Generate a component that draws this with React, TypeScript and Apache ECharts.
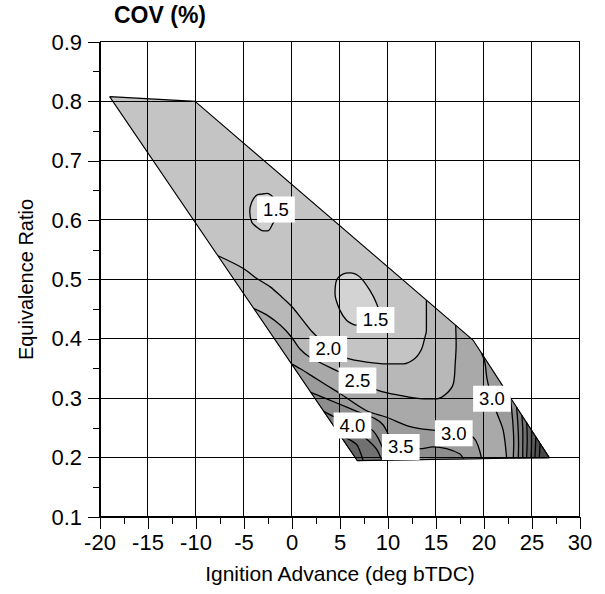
import React, { useEffect, useRef } from "react";
import * as echarts from "echarts";

const FONT = "Liberation Sans, Arial, Helvetica, sans-serif";

// Axis ranges / ticks
const X_MIN = -20, X_MAX = 30, X_STEP = 5;
const Y_MIN = 0.1, Y_MAX = 0.9, Y_STEP = 0.1;
const xTicks = [-20, -15, -10, -5, 0, 5, 10, 15, 20, 25, 30];
const yTicks = [0.1, 0.2, 0.3, 0.4, 0.5, 0.6, 0.7, 0.8, 0.9];

// Outline of the measured region (x: ignition advance, y: equivalence ratio)
const boundary: [number, number][] = [
  [-19.0, 0.808], [-10.1, 0.8], [18.85, 0.398], [26.8, 0.2], [6.8, 0.195],
];
const C: [number, number] = boundary[2];
const D: [number, number] = boundary[3];
const E: [number, number] = boundary[4];

// Contour lines
const c15a: [number, number][] = [
  [-3.1, 0.644], [-3.7, 0.642], [-4.2, 0.63], [-4.4, 0.615], [-4.2, 0.597], [-3.65, 0.588],
  [-3.0, 0.582], [-2.5, 0.582], [-2.0, 0.594], [-1.5, 0.61], [-1.8, 0.635], [-2.6, 0.645], [-3.1, 0.644],
];
const c15b: [number, number][] = [
  [6.56, 0.423], [5.7, 0.431], [5.0, 0.448], [4.48, 0.476], [4.65, 0.499], [5.3, 0.509],
  [6.04, 0.511], [7.08, 0.504], [8.1, 0.482], [8.82, 0.459], [9.1, 0.44], [8.2, 0.425], [6.56, 0.423],
];
const c20: [number, number][] = [
  [-7.7, 0.54], [-5.1, 0.519], [-3.7, 0.502], [-2.3, 0.488], [-1.1, 0.471], [0.0, 0.454],
  [1.0, 0.434], [2.1, 0.412], [3.0, 0.398], [4.5, 0.378], [5.76, 0.367], [7.78, 0.361],
  [9.86, 0.358], [11.6, 0.358], [12.8, 0.367], [13.5, 0.383], [13.85, 0.403], [14.0, 0.414], [14.0, 0.465],
];
const c25: [number, number][] = [
  [-3.95, 0.451], [-2.6, 0.44], [-1.2, 0.423], [-0.1, 0.404], [0.83, 0.383], [1.87, 0.369],
  [4.83, 0.345], [6.8, 0.33], [9.03, 0.313], [11.2, 0.305], [13.68, 0.299], [15.07, 0.299],
  [16.1, 0.308], [16.8, 0.324], [17.0, 0.358], [17.1, 0.392], [17.05, 0.423],
];
const c30L: [number, number][] = [
  [-0.05, 0.358], [0.83, 0.35], [2.22, 0.336], [3.6, 0.322], [5.0, 0.308], [7.78, 0.279],
  [9.86, 0.268], [11.95, 0.254], [13.3, 0.249], [14.9, 0.246], [16.85, 0.241], [18.9, 0.234], [19.76, 0.198],
];
const c30R: [number, number][] = [
  [19.75, 0.376], [20.1, 0.36], [20.3, 0.334], [20.8, 0.3], [21.3, 0.277], [22.0, 0.246], [22.36, 0.199],
];
const c35L: [number, number][] = [
  [1.95, 0.31], [4.66, 0.292], [6.75, 0.278], [8.6, 0.266], [9.5, 0.255], [10.2, 0.235],
  [11.33, 0.218], [13.33, 0.215], [14.7, 0.218], [16.1, 0.215], [17.5, 0.206], [17.85, 0.198],
];
const c40L: [number, number][] = [
  [3.3, 0.278], [4.5, 0.268], [6.3, 0.255], [8.3, 0.247], [9.0, 0.232], [9.7, 0.208], [10.5, 0.196],
];
const c45L: [number, number][] = [
  [4.5, 0.25], [6.0, 0.248], [6.74, 0.244], [8.0, 0.228], [8.82, 0.214], [9.35, 0.196],
];
const c50L: [number, number][] = [
  [5.0, 0.238], [5.8, 0.232], [6.74, 0.222], [7.1, 0.21], [7.4, 0.196],
];
const c35R: [number, number][] = [[22.75, 0.301], [23.0, 0.26], [23.1, 0.225], [23.05, 0.199]];
const c40R: [number, number][] = [[23.4, 0.285], [23.55, 0.25], [23.6, 0.222], [23.57, 0.199]];
const c45R: [number, number][] = [[23.95, 0.271], [24.05, 0.24], [24.03, 0.2]];
const c50R: [number, number][] = [[24.45, 0.259], [24.5, 0.23], [24.44, 0.2]];
const c55R: [number, number][] = [[24.95, 0.246], [24.95, 0.222], [24.9, 0.2]];
const c60R: [number, number][] = [[25.4, 0.235], [25.35, 0.215], [25.3, 0.2]];
const c65R: [number, number][] = [[25.85, 0.224], [25.8, 0.21], [25.76, 0.2]];

// Contour labels
const labelText = ["1.5", "1.5", "2.0", "2.5", "4.0", "3.5", "3.0", "3.0"];
const labelPos: [number, number][] = [
  [-1.67, 0.618], [8.7, 0.432], [3.78, 0.383], [6.82, 0.33],
  [6.3, 0.254], [11.33, 0.218], [16.85, 0.241], [20.83, 0.299],
];

// Filled bands, drawn in order (higher levels on top)
const regions: { pts: [number, number][]; fill: string }[] = [
  { pts: boundary, fill: "#c4c4c4" },
  { pts: c15a, fill: "#cfcfcf" },
  { pts: c15b, fill: "#d3d3d3" },
  { pts: [...c20, C, D, E], fill: "#b8b8b8" },
  { pts: [...c25, C, D, E], fill: "#a9a9a9" },
  { pts: [...c30L, E], fill: "#9b9b9b" },
  { pts: [...c30R, D], fill: "#9b9b9b" },
  { pts: [...c35L, E], fill: "#8d8d8d" },
  { pts: [...c35R, D], fill: "#8d8d8d" },
  { pts: [...c40L, E], fill: "#7f7f7f" },
  { pts: [...c40R, D], fill: "#7f7f7f" },
  { pts: [...c45L, E], fill: "#717171" },
  { pts: [...c45R, D], fill: "#717171" },
  { pts: [...c50L, E], fill: "#646464" },
  { pts: [...c50R, D], fill: "#646464" },
  { pts: [...c55R, D], fill: "#5a5a5a" },
  { pts: [...c60R, D], fill: "#515151" },
  { pts: [...c65R, D], fill: "#494949" },
];

const contours: [number, number][][] = [
  c15a, c15b, c20, c25, c30L, c30R, c35L, c40L, c45L, c50L,
  c35R, c40R, c45R, c50R, c55R, c60R, c65R,
];

// same pixel snapping as ECharts uses for 1px axis lines
const snap = (v: number) => {
  const d = Math.round(v * 2);
  return (d + 1) % 2 === 0 ? d / 2 : (d - 1) / 2;
};

export default function App() {
  const ref = useRef<HTMLDivElement>(null);
  useEffect(() => {
    if (!ref.current) return;
    const chart = echarts.init(ref.current, undefined, { renderer: "svg" });
    const axisCommon = {
      type: "value" as const,
      axisLine: { show: true, onZero: false, lineStyle: { color: "#000", width: 1 } },
      axisTick: { show: true, length: 12, lineStyle: { color: "#000", width: 1 } },
      minorTick: { show: true, splitNumber: 2, length: 7, lineStyle: { color: "#000", width: 1 } },
      splitLine: { show: false },
      nameLocation: "middle" as const,
    };
    const lineSeries = contours.map((pts) => ({
      type: "line",
      data: pts,
      symbol: "none",
      showSymbol: false,
      smooth: 0.3,
      silent: true,
      z: 5,
      lineStyle: { color: "#000", width: 1.3 },
    }));
    chart.setOption({
      animation: false,
      backgroundColor: "#fff",
      title: {
        text: "COV (%)",
        left: 114,
        top: 3,
        padding: 0,
        textStyle: { fontSize: 23, fontWeight: "bold", color: "#000", fontFamily: FONT },
      },
      grid: { left: 100, right: 25, top: 42, bottom: 77, containLabel: false },
      xAxis: {
        ...axisCommon,
        min: X_MIN,
        max: X_MAX,
        interval: X_STEP,
        name: "Ignition Advance (deg bTDC)",
        nameGap: 46,
        nameTextStyle: { fontSize: 21, color: "#000", fontFamily: FONT },
        axisLabel: { fontSize: 22, color: "#000", margin: 14, fontFamily: FONT },
      },
      yAxis: {
        ...axisCommon,
        min: Y_MIN,
        max: Y_MAX,
        interval: Y_STEP,
        name: "Equivalence Ratio",
        nameGap: 64,
        nameTextStyle: { fontSize: 20, color: "#000", fontFamily: FONT },
        axisLabel: {
          fontSize: 22,
          color: "#000",
          margin: 18,
          fontFamily: FONT,
          formatter: (v: number) => v.toFixed(1),
        },
      },
      series: [
        {
          type: "custom",
          z: 1,
          silent: true,
          data: regions.map((r, i) => [r.pts[0][0], r.pts[0][1], i]),
          renderItem: (params: any, api: any) => {
            const r = regions[params.dataIndex];
            return {
              type: "polygon",
              shape: { points: r.pts.map((p) => api.coord(p)) },
              style: { fill: r.fill, stroke: r.fill, lineWidth: 0.5 },
            };
          },
        },
        {
          // grid lines drawn over the filled contour field
          type: "custom",
          z: 4,
          silent: true,
          clip: false,
          data: [[X_MIN, Y_MIN]],
          renderItem: (_params: any, api: any) => {
            const children: any[] = [];
            xTicks.forEach((t) => {
              const a = api.coord([t, Y_MIN]);
              const b = api.coord([t, Y_MAX]);
              const x = snap(a[0]);
              children.push({
                type: "line",
                z2: 10,
                shape: { x1: x, y1: a[1], x2: x, y2: b[1] },
                style: { stroke: "#000", lineWidth: 1 },
              });
            });
            yTicks.forEach((t) => {
              const a = api.coord([X_MIN, t]);
              const b = api.coord([X_MAX, t]);
              const y = snap(a[1]);
              children.push({
                type: "line",
                z2: 10,
                shape: { x1: a[0], y1: y, x2: b[0], y2: y },
                style: { stroke: "#000", lineWidth: 1 },
              });
            });
            return { type: "group", children };
          },
        },
        ...lineSeries,
        {
          type: "line",
          data: [...boundary, boundary[0]],
          symbol: "none",
          showSymbol: false,
          silent: true,
          z: 5,
          lineStyle: { color: "#000", width: 1.1 },
        },
        {
          type: "scatter",
          z: 7,
          silent: true,
          symbolSize: 1,
          itemStyle: { color: "rgba(0,0,0,0)", opacity: 1 },
          data: labelPos.map((p, i) => ({ value: p, name: labelText[i] })),
          label: {
            show: true,
            position: "inside",
            formatter: "{b}",
            backgroundColor: "#fff",
            padding: [3, 6, 3, 6],
            lineHeight: 20,
            fontSize: 18.5,
            color: "#000",
            opacity: 1,
            fontFamily: FONT,
          },
          labelLayout: { hideOverlap: false },
        },
      ],
    });
    return () => chart.dispose();
  }, []);
  return (
    <div
      ref={ref}
      style={{ position: "fixed", left: 0, top: 0, width: 605, height: 594, background: "#fff" }}
    />
  );
}
